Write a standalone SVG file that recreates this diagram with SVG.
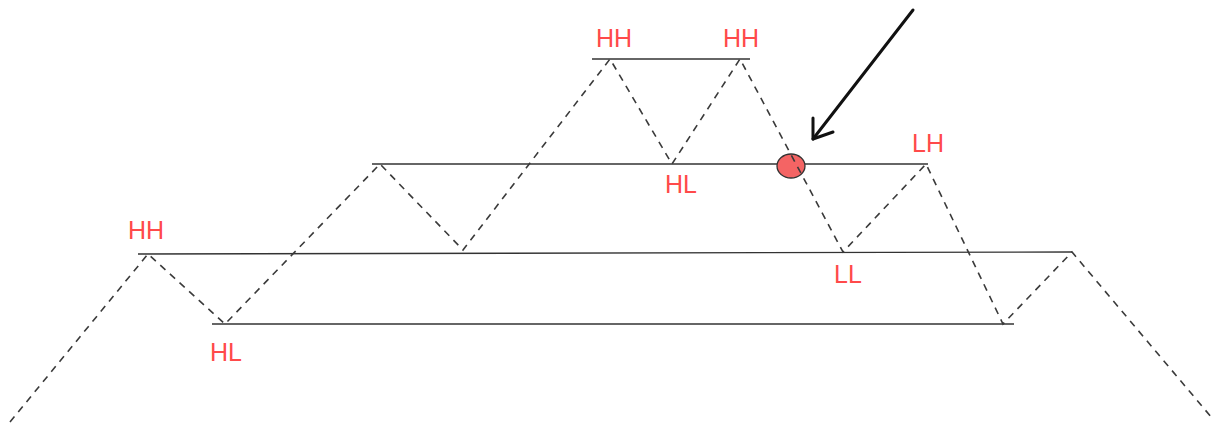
<svg xmlns="http://www.w3.org/2000/svg" width="1214" height="424" viewBox="0 0 1214 424">
<style>
.lvl{stroke:#333;stroke-width:1.4;fill:none}
.zig{stroke:#3a3a3a;stroke-width:1.6;stroke-dasharray:7 6;fill:none}
.lbl{font-family:"Liberation Sans",Arial,sans-serif;font-size:25px;fill:#ff4a4a;text-anchor:middle}
</style>
<rect width="1214" height="424" fill="#fff"/>
<g id="connectors">
<line class="lvl" x1="592" y1="59" x2="750" y2="59"/>
<line class="lvl" x1="372" y1="164" x2="928" y2="164"/>
<line class="lvl" x1="138" y1="254" x2="1072" y2="252"/>
<line class="lvl" x1="212" y1="324" x2="1014" y2="324"/>
</g>
<g id="marker-point">
<ellipse cx="791" cy="166" rx="14" ry="12" fill="#f46464" stroke="#333" stroke-width="1.3"/>
</g>
<g id="price-path">
<polyline class="zig" points="10,422 148,254 225,324 380,164 463,250 610,59 672,164 740,59 843,252 926,164 1003,324 1072,252 1212,418"/>
</g>
<g id="arrow">
<line x1="913" y1="10" x2="813" y2="139" stroke="#111" stroke-width="3" stroke-linecap="round"/>
<polyline points="813,118 813,139 833,132" fill="none" stroke="#111" stroke-width="3" stroke-linecap="round" stroke-linejoin="round"/>
</g>
<g id="labels">
<text class="lbl" x="614" y="47">HH</text>
<text class="lbl" x="741" y="47">HH</text>
<text class="lbl" x="681" y="193">HL</text>
<text class="lbl" x="928" y="152">LH</text>
<text class="lbl" x="848" y="283">LL</text>
<text class="lbl" x="146" y="239">HH</text>
<text class="lbl" x="226" y="361">HL</text>
</g>
</svg>
